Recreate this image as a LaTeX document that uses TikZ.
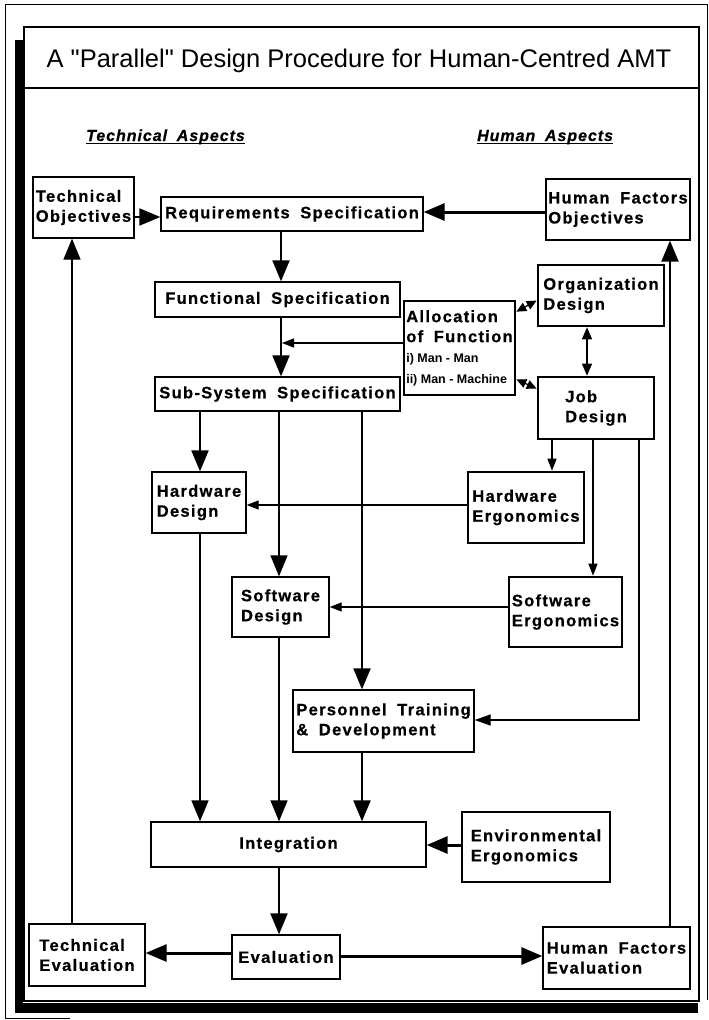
\documentclass[tikz,border=0pt]{standalone}
\usepackage{fontspec}
\setmainfont{Liberation Sans}
\newfontfamily\ttlfont{Liberation Sans}
\newfontfamily\bxfont{Liberation Sans Bold}[LetterSpace=8.0,WordSpace=1.8,FakeBold=0.6]
\newfontfamily\hdfont{Liberation Sans Bold Italic}[LetterSpace=6.0,WordSpace=1.8,FakeBold=0.6]
\newfontfamily\smfont{Liberation Sans Bold}
\usetikzlibrary{arrows.meta}

\begin{document}
\begin{tikzpicture}[x=1pt,y=-1pt,
  box/.style={draw, line width=1.3pt, inner sep=0pt, align=left,
    font={\bxfont\fontsize{16.5}{20}\selectfont}},
  heavy/.style={box, line width=2.6pt},
  hdr/.style={inner sep=0pt, font={\hdfont\fontsize{16}{20}\selectfont}},
  wthin/.style={line width=1.3pt},
  wmid/.style={line width=2pt},
  wbold/.style={line width=3pt},
  big/.style={-{Triangle[length=21pt,width=17pt]}},
  medh/.style={-{Triangle[length=16pt,width=11pt]}},
  sml/.style={-{Triangle[length=12pt,width=9pt]}},
  dbl/.style={{Triangle[length=10pt,width=9pt]}-{Triangle[length=10pt,width=9pt]}},
  dblv/.style={{Triangle[length=12pt,width=10pt]}-{Triangle[length=12pt,width=10pt]}}
]
\useasboundingbox (0,0) rectangle (709,1020);
\fill[white] (0,0) rectangle (709,1020);

% page frame with shadowed panel
\draw[line width=1pt] (70,1018) -- (5,1018) -- (5,4) -- (707,4) -- (707,1000);
\fill (15,40) rectangle (23,1013);
\fill (15,1003) rectangle (698,1013);
\draw[line width=1.3pt] (24,27) rectangle (699,1001);
\draw[line width=1.3pt] (24,88) -- (699,88);

% title and column headings
\node[anchor=base, inner sep=0pt, font={\ttlfont\fontsize{25.5}{30}\selectfont}] (title) at (359,67)
  {A "Parallel" Design Procedure for Human-Centred AMT};
\node[hdr, anchor=base west] (tasp) at (86,141) {Technical Aspects};
\node[hdr, anchor=base west] (hasp) at (477,141) {Human Aspects};
\draw[line width=1.2pt] ([yshift=-2.5pt]tasp.base west) -- ([yshift=-2.5pt]tasp.base east);
\draw[line width=1.2pt] ([yshift=-2.5pt]hasp.base west) -- ([yshift=-2.5pt]hasp.base east);

% boxes
\node[box, minimum width=101pt, minimum height=61pt] (techobj) at (83.5,207.5) {Technical\\Objectives};
\node[box, minimum width=262pt, minimum height=34pt] (req) at (292,214) {Requirements Specification};
\node[box, minimum width=144pt, minimum height=61pt] (hfo) at (618,209.5) {Human Factors\\Objectives};
\node[box, minimum width=245pt, minimum height=35pt] (func) at (277.5,299.5) {Functional Specification};
\node[heavy, minimum width=111pt, minimum height=94pt] (alloc) at (459.5,348) {Allocation\\of Function\\
  {\smfont\fontsize{12.5}{20}\selectfont i) Man - Man}\\[1pt]
  {\smfont\fontsize{12.5}{20}\selectfont ii) Man - Machine}};
\node[heavy, minimum width=126pt, minimum height=61pt] (org) at (601,295.5) {Organization\\Design};
\node[box, minimum width=245pt, minimum height=34pt] (sub) at (277.5,394) {Sub-System Specification};
\node[heavy, minimum width=116pt, minimum height=62pt] (job) at (596,408) {Job\\Design};
\node[box, minimum width=94pt, minimum height=61pt] (hw) at (199,502.5) {Hardware\\Design};
\node[heavy, minimum width=116pt, minimum height=71pt] (hwe) at (526,507.5) {Hardware\\Ergonomics};
\node[box, minimum width=97pt, minimum height=60pt] (sw) at (280.5,607) {Software\\Design};
\node[heavy, minimum width=113pt, minimum height=70pt] (swe) at (565.5,612) {Software\\Ergonomics};
\node[box, minimum width=181pt, minimum height=62pt] (pers) at (383.5,721) {Personnel Training\\\& Development};
\node[box, minimum width=275pt, minimum height=45pt] (integ) at (288.5,844.5) {Integration};
\node[heavy, minimum width=148pt, minimum height=70pt] (env) at (536,847) {Environmental\\Ergonomics};
\node[box, minimum width=108pt, minimum height=44pt] (eval) at (286,957) {Evaluation};
\node[box, minimum width=116pt, minimum height=62pt] (teval) at (87,955) {Technical\\Evaluation};
\node[box, minimum width=147pt, minimum height=62pt] (hfe) at (616.5,958) {Human Factors\\Evaluation};

% guide lines for the connectors
\coordinate (xA) at (281,0);
\coordinate (xAl) at (282,0);
\coordinate (xHw) at (200,0);
\coordinate (xSw) at (279,0);
\coordinate (xPer) at (362,0);
\coordinate (xL) at (72,0);
\coordinate (xR) at (670,0);
\coordinate (xJa) at (552,0);
\coordinate (xJb) at (593,0);
\coordinate (xJc) at (639,0);
\coordinate (xOJ) at (587,0);
\coordinate (yObj) at (0,217);
\coordinate (yHfo) at (0,212);
\coordinate (yAl) at (0,343);
\coordinate (yHw) at (0,505);
\coordinate (ySw) at (0,607);
\coordinate (yPer) at (0,720);
\coordinate (yEnv) at (0,845);
\coordinate (yEvL) at (0,953);
\coordinate (yEvR) at (0,956);

% connectors
\draw[wmid, big] (techobj.east |- yObj) -- (req.west |- yObj);
\draw[wbold, big] (hfo.west |- yHfo) -- (req.east |- yHfo);
\draw[wmid, big] (req.south -| xA) -- (func.north -| xA);
\draw[wmid, big] (func.south -| xA) -- (sub.north -| xA);
\draw[wthin, sml] (alloc.west |- yAl) -- (xAl |- yAl);
\draw[wthin, dbl] ([yshift=-12pt]alloc.north east) -- ([yshift=-5pt]org.west);
\draw[wthin, dbl] ([yshift=17pt]alloc.south east) -- ([yshift=-13pt]job.north west);
\draw[wthin, dblv] (org.south -| xOJ) -- (job.north -| xOJ);
\draw[wmid, big] (sub.south -| xHw) -- (hw.north -| xHw);
\draw[wthin, big] (sub.south -| xSw) -- (sw.north -| xSw);
\draw[wmid, big] (sub.south -| xPer) -- (pers.north -| xPer);
\draw[wthin, sml] (job.south -| xJa) -- (hwe.north -| xJa);
\draw[wthin, sml] (job.south -| xJb) -- (swe.north -| xJb);
\draw[wthin, medh] (job.south -| xJc) |- (pers.east |- yPer);
\draw[wthin, sml] (hwe.west |- yHw) -- (hw.east |- yHw);
\draw[wthin, sml] (swe.west |- ySw) -- (sw.east |- ySw);
\draw[wthin, big] (hw.south -| xHw) -- (integ.north -| xHw);
\draw[wthin, big] (sw.south -| xSw) -- (integ.north -| xSw);
\draw[wmid, big] (pers.south -| xPer) -- (integ.north -| xPer);
\draw[wbold, big] (env.west |- yEnv) -- (integ.east |- yEnv);
\draw[wmid, big] (integ.south -| xSw) -- (eval.north -| xSw);
\draw[wbold, big] (eval.west |- yEvL) -- (teval.east |- yEvL);
\draw[wbold, big] (eval.east |- yEvR) -- (hfe.west |- yEvR);
\draw[wthin, big] (teval.north -| xL) -- (techobj.south -| xL);
\draw[wmid, big] (hfe.north -| xR) -- (hfo.south -| xR);
\end{tikzpicture}
\end{document}
